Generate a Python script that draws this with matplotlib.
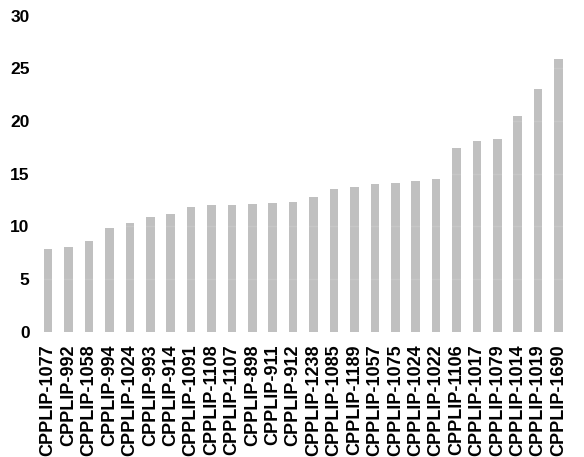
import matplotlib
matplotlib.use("Agg")
import matplotlib.pyplot as plt
import numpy as np

# Data
labels = [
    "CPPLIP-1077", "CPPLIP-992", "CPPLIP-1058", "CPPLIP-994", "CPPLIP-1024",
    "CPPLIP-993", "CPPLIP-914", "CPPLIP-1091", "CPPLIP-1108", "CPPLIP-1107",
    "CPPLIP-898", "CPPLIP-911", "CPPLIP-912", "CPPLIP-1238", "CPPLIP-1085",
    "CPPLIP-1189", "CPPLIP-1057", "CPPLIP-1075", "CPPLIP-1024", "CPPLIP-1022",
    "CPPLIP-1106", "CPPLIP-1017", "CPPLIP-1079", "CPPLIP-1014", "CPPLIP-1019",
    "CPPLIP-1690",
]
values = [
    7.8, 8.0, 8.6, 9.8, 10.3,
    10.9, 11.2, 11.85, 12.0, 12.0,
    12.1, 12.2, 12.3, 12.8, 13.5,
    13.7, 14.0, 14.1, 14.3, 14.45,
    17.4, 18.1, 18.3, 20.5, 23.0,
    25.85,
]
yticks = [0, 5, 10, 15, 20, 25, 30]

plt.rcParams["font.family"] = ["Liberation Sans", "DejaVu Sans"]

fig = plt.figure(figsize=(5.84, 4.57), dpi=100)
ax = fig.add_axes([0.065, 0.2746, 0.909, 0.6913])

x = np.arange(len(values))
ax.bar(x, values, width=0.42, color="#c0c0c0", zorder=2)

# faint gridlines, only just visible over the bars
for yv in yticks[1:-1]:
    ax.axhline(yv, color="#ffffff", alpha=0.12, linewidth=1, zorder=3)

ax.set_xlim(-0.5, len(values) - 0.5)
ax.set_ylim(0, 30)
ax.set_yticks(yticks)
ax.set_yticklabels([str(v) for v in yticks], fontsize=12.5, fontweight="bold")
ax.set_xticks(x)
ax.set_xticklabels(labels, rotation=90, fontsize=13, fontweight="bold")
ax.tick_params(axis="both", length=0)
ax.tick_params(axis="x", pad=9)
ax.tick_params(axis="y", pad=6)

for s in ax.spines.values():
    s.set_visible(False)

fig.savefig("out.png", dpi=100)
